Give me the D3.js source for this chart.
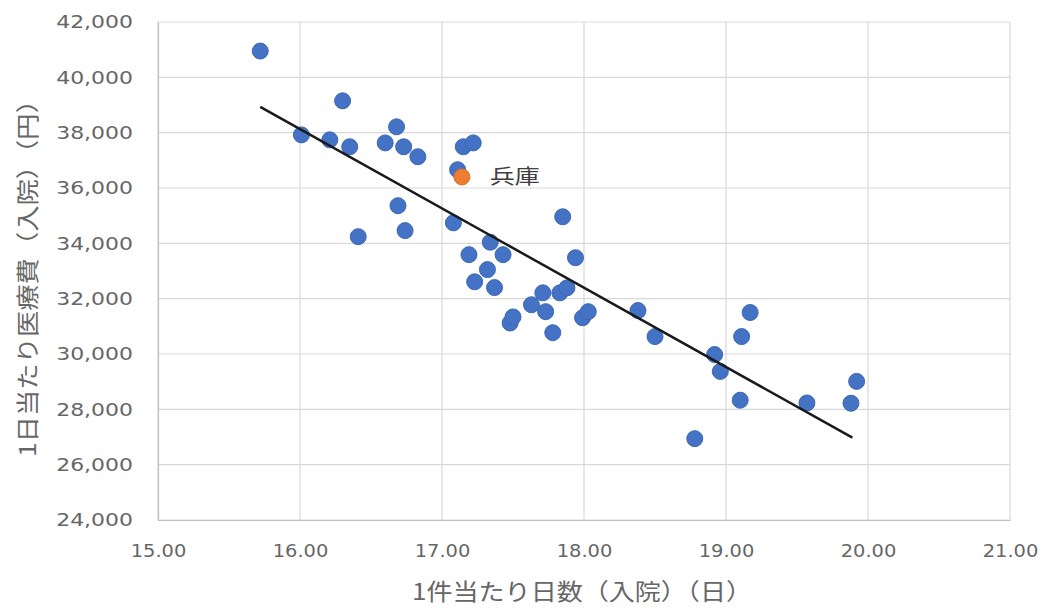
<!DOCTYPE html>
<html>
<head>
<meta charset="utf-8">
<script src="https://cdn.jsdelivr.net/npm/d3@7"></script>
<style>
  html, body { margin: 0; padding: 0; background: #fff; }
  svg { display: block; }
</style>
</head>
<body>
<svg id="chart" width="1051" height="611"></svg>
<script>
// ---- data ----
const prefDays = [15.72, 16.01, 16.21, 16.30, 16.35, 16.41, 16.60, 16.68, 16.73, 16.83,
                  16.69, 16.74, 17.08, 17.15, 17.22, 17.11, 17.19, 17.34, 17.43, 17.32,
                  17.23, 17.37, 17.48, 17.50, 17.63, 17.71, 17.73, 17.78, 17.83, 17.88,
                  17.85, 17.94, 17.99, 18.03, 18.38, 18.50, 18.78, 18.92, 18.96, 19.10,
                  19.11, 19.17, 19.57, 19.88, 19.92];
const prefCost = [40950, 37920, 37740, 39150, 37490, 34240, 37630, 38210, 37490, 37130,
                  35360, 34460, 34740, 37490, 37630, 36660, 33590, 34040, 33590, 33050,
                  32610, 32400, 31120, 31340, 31780, 32210, 31530, 30770, 32210, 32390,
                  34960, 33480, 31310, 31530, 31570, 30630, 26940, 29980, 29370, 28330,
                  30630, 31500, 28230, 28220, 29010];
const hyogoDays = [17.14];
const hyogoCost = [36400];
const hyogoLabel = ["兵庫"];
const trendDays = [15.72, 19.89];
const trendCost = [38930, 26980];
const xTicks = [15, 16, 17, 18, 19, 20, 21];
const yTicks = [24000, 26000, 28000, 30000, 32000, 34000, 36000, 38000, 40000, 42000];
const xTitle = "1件当たり日数（入院）（日）";
const yTitle = "1日当たり医療費（入院）（円）";

// ---- drawing ----
(function () {
const svg = d3.select("#chart");
const mLeft = 158, mRight = 1010, mTop = 22, mBottom = 520;
const x = d3.scaleLinear().domain([15, 21]).range([mLeft, mRight]);
const y = d3.scaleLinear().domain([24000, 42000]).range([mBottom, mTop]);

const tickColor = "#666666";
const gridColor = "#d9d9d9";

// grid
svg.append("g").selectAll("line").data(yTicks).join("line")
  .attr("x1", mLeft).attr("x2", mRight)
  .attr("y1", d => y(d)).attr("y2", d => y(d))
  .attr("stroke", gridColor).attr("stroke-width", 1.2);
svg.append("g").selectAll("line").data(xTicks).join("line")
  .attr("y1", mTop).attr("y2", mBottom)
  .attr("x1", d => x(d)).attr("x2", d => x(d))
  .attr("stroke", gridColor).attr("stroke-width", 1.2);

// axes
const yAxis = svg.append("g").attr("transform", `translate(${mLeft},0)`)
  .call(d3.axisLeft(y).tickValues(yTicks).tickSize(0).tickPadding(25).tickFormat(d3.format(",")));
yAxis.select(".domain").attr("stroke", "#bfbfbf").attr("stroke-width", 1.2);
yAxis.selectAll("text")
  .attr("fill", tickColor)
  .style("font-family", "'DejaVu Sans', sans-serif").style("font-size", "18px")
  .each(function () {
    const len = this.getComputedTextLength();
    d3.select(this).attr("textLength", len * 1.22).attr("lengthAdjust", "spacingAndGlyphs");
  });

const xAxis = svg.append("g").attr("transform", `translate(0,${mBottom})`)
  .call(d3.axisBottom(x).tickValues(xTicks).tickSize(0).tickPadding(24).tickFormat(d3.format(".2f")));
xAxis.select(".domain").attr("stroke", "#bfbfbf").attr("stroke-width", 1.2);
xAxis.selectAll("text")
  .attr("fill", tickColor)
  .style("font-family", "'DejaVu Sans', sans-serif").style("font-size", "18px")
  .each(function () {
    const len = this.getComputedTextLength();
    d3.select(this).attr("textLength", len * 1.08).attr("lengthAdjust", "spacingAndGlyphs");
  });

// points
const pts = prefDays.map((d, i) => ({ x: d, y: prefCost[i] }));
svg.append("g").selectAll("circle").data(pts).join("circle")
  .attr("cx", d => x(d.x)).attr("cy", d => y(d.y)).attr("r", 8)
  .attr("fill", "#4472C4").attr("stroke", "#3d68b3").attr("stroke-width", 1);

// trend line
svg.append("line")
  .attr("x1", x(trendDays[0])).attr("y1", y(trendCost[0]))
  .attr("x2", x(trendDays[1])).attr("y2", y(trendCost[1]))
  .attr("stroke", "#1a1a1a").attr("stroke-width", 2.5);

// hyogo point
svg.append("g").selectAll("circle").data(hyogoDays).join("circle")
  .attr("cx", d => x(d)).attr("cy", (d, i) => y(hyogoCost[i])).attr("r", 8)
  .attr("fill", "#ED7D31").attr("stroke", "#e07020").attr("stroke-width", 1);
svg.append("g").selectAll("text").data(hyogoLabel).join("text")
  .attr("x", (d, i) => x(hyogoDays[i]) + 28).attr("y", (d, i) => y(hyogoCost[i]))
  .attr("dy", "0.36em")
  .attr("textLength", 50).attr("lengthAdjust", "spacingAndGlyphs")
  .attr("fill", "#404040")
  .style("font-family", "'Noto Sans CJK JP', sans-serif").style("font-size", "20px")
  .text(d => d);

// axis titles
svg.append("text")
  .attr("x", 582).attr("y", 590)
  .attr("text-anchor", "middle").attr("dominant-baseline", "central")
  .attr("textLength", 340).attr("lengthAdjust", "spacingAndGlyphs")
  .attr("fill", tickColor)
  .style("font-family", "'Noto Sans CJK JP', sans-serif").style("font-size", "23px")
  .text(xTitle);
svg.append("text")
  .attr("transform", "translate(26,272) rotate(-90)")
  .attr("text-anchor", "middle").attr("dominant-baseline", "central")
  .attr("textLength", 370).attr("lengthAdjust", "spacingAndGlyphs")
  .attr("fill", tickColor)
  .style("font-family", "'Noto Sans CJK JP', sans-serif").style("font-size", "23px")
  .text(yTitle);
})();
</script>
</body>
</html>
